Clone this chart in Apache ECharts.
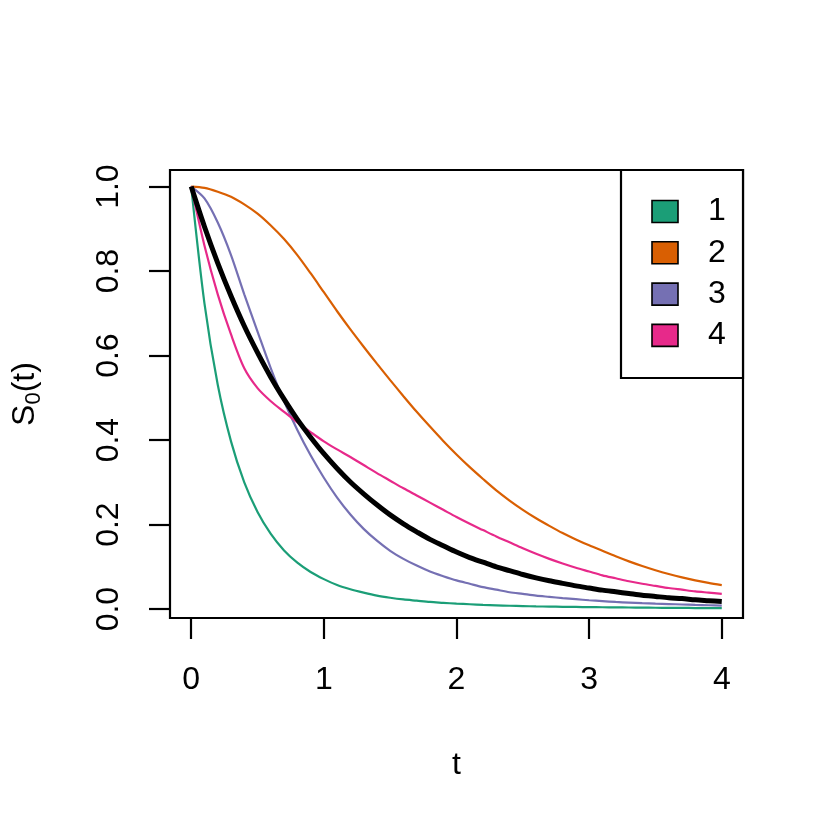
<!DOCTYPE html>
<html>
<head>
<meta charset="utf-8">
<script src="https://cdn.jsdelivr.net/npm/echarts@6/dist/echarts.min.js"></script>
<style>
html,body{margin:0;padding:0;background:#fff;}
#chart{width:830px;height:830px;}
</style>
</head>
<body>
<div id="chart"></div>
<script>
// ---- data (t from 0 to 4 in steps of 0.1) ----
const tValues = [0,0.1,0.2,0.3,0.4,0.5,0.6,0.7,0.8,0.9,1.0,1.1,1.2,1.3,1.4,1.5,1.6,1.7,1.8,1.9,2.0,2.1,2.2,2.3,2.4,2.5,2.6,2.7,2.8,2.9,3.0,3.1,3.2,3.3,3.4,3.5,3.6,3.7,3.8,3.9,4.0];
const s1 = [1,0.723,0.531,0.397,0.300,0.230,0.178,0.139,0.110,0.088,0.071,0.057,0.047,0.039,0.032,0.027,0.023,0.020,0.017,0.015,0.013,0.0115,0.010,0.009,0.008,0.0072,0.0065,0.006,0.0055,0.0051,0.0047,0.0044,0.0041,0.0039,0.0036,0.0033,0.0031,0.0029,0.0026,0.0024,0.0022];
const s2 = [1,0.997,0.988,0.976,0.958,0.936,0.908,0.876,0.838,0.795,0.750,0.705,0.662,0.621,0.581,0.542,0.504,0.467,0.432,0.398,0.366,0.336,0.308,0.281,0.257,0.235,0.215,0.197,0.180,0.165,0.151,0.138,0.125,0.113,0.102,0.092,0.083,0.075,0.068,0.062,0.057];
const s3 = [1,0.972,0.915,0.838,0.745,0.657,0.570,0.492,0.424,0.364,0.311,0.264,0.224,0.190,0.162,0.138,0.119,0.103,0.089,0.078,0.068,0.060,0.052,0.046,0.040,0.036,0.032,0.029,0.026,0.0235,0.021,0.019,0.017,0.0155,0.0142,0.013,0.012,0.011,0.010,0.0092,0.0085];
const s4 = [1,0.86,0.745,0.650,0.570,0.523,0.492,0.467,0.442,0.419,0.397,0.378,0.360,0.341,0.322,0.304,0.286,0.269,0.252,0.235,0.218,0.202,0.187,0.172,0.158,0.144,0.131,0.119,0.108,0.098,0.089,0.080,0.073,0.066,0.060,0.055,0.050,0.046,0.042,0.039,0.036];
const sBase = [1,0.905,0.819,0.741,0.670,0.607,0.549,0.497,0.449,0.407,0.368,0.333,0.301,0.273,0.247,0.223,0.202,0.183,0.165,0.150,0.135,0.122,0.111,0.100,0.091,0.082,0.074,0.067,0.061,0.055,0.050,0.045,0.041,0.037,0.033,0.030,0.027,0.025,0.022,0.020,0.018];
const groupNames = ['1','2','3','4'];
const groupColors = ['#1B9E77','#D95F02','#7570B3','#E7298A'];
const xTicks = [0,1,2,3,4];
const yTicks = [0,0.2,0.4,0.6,0.8,1.0];
const yTickLabels = ['0.0','0.2','0.4','0.6','0.8','1.0'];

// ---- chart ----
const FONT = "'Liberation Sans', Arial, Helvetica, sans-serif";
const groupSeries = [s1,s2,s3,s4];
const pair = arr => tValues.map((t,i)=>[t,arr[i]]);

const series = groupSeries.map((arr,i)=>({
  name: groupNames[i], type:'line', data: pair(arr), showSymbol:false, smooth:0.3,
  lineStyle:{color:groupColors[i], width:2.2}, itemStyle:{color:groupColors[i]}, z:2, silent:true
}));
series.push({
  name:'S0', type:'line', data: pair(sBase), showSymbol:false, smooth:0.3,
  lineStyle:{color:'#000', width:5}, z:3, silent:true
});

// legend drawn as graphics (box + keys)
const legBox = {x:621, y:170, w:122, h:208};
const graphics = [{
  type:'rect', shape:{x:legBox.x, y:legBox.y, width:legBox.w, height:legBox.h},
  style:{fill:'#fff', stroke:'#000', lineWidth:2.2}, z:10
}];
groupNames.forEach((n,i)=>{
  const cy = 211.5 + i*41.3;
  graphics.push({type:'rect', shape:{x:652, y:cy-11, width:26, height:22},
    style:{fill:groupColors[i], stroke:'#000', lineWidth:1.6}, z:11});
  graphics.push({type:'text', x:717, y:cy, style:{text:n, font:'32px '+FONT, fill:'#000',
    textAlign:'center', textVerticalAlign:'middle'}, z:11});
});

const chart = echarts.init(document.getElementById('chart'), null, {renderer:'canvas'});
chart.setOption({
  animation:false,
  backgroundColor:'#fff',
  grid:{left:170, top:170, width:573, height:448, show:true, borderColor:'#000', borderWidth:2.2, backgroundColor:'transparent'},
  xAxis:{
    type:'value', min:-0.16, max:4.16,
    axisLine:{show:false, onZero:false},
    splitLine:{show:false},
    axisTick:{show:true, inside:false, length:21, lineStyle:{color:'#000', width:2.2}, customValues:xTicks},
    axisLabel:{customValues:xTicks, fontSize:32, fontFamily:FONT, color:'#000', margin:46,
      formatter: v => String(v)},
    name:'t', nameLocation:'middle', nameGap:131,
    nameTextStyle:{fontSize:32, fontFamily:FONT, color:'#000'}
  },
  yAxis:{
    type:'value', min:-0.021, max:1.0393,
    axisLine:{show:false, onZero:false},
    splitLine:{show:false},
    axisTick:{show:true, inside:false, length:21, lineStyle:{color:'#000', width:2.2}, customValues:yTicks},
    axisLabel:{customValues:yTicks, rotate:90, fontSize:32, fontFamily:FONT, color:'#000', margin:45,
      formatter: v => { const i = yTicks.findIndex(y=>Math.abs(y-v)<1e-9); return i>=0 ? yTickLabels[i] : ''; }},
    name:'{a|S}{b|0}{a|(t)}', nameLocation:'middle', nameGap:125, nameRotate:90,
    nameTextStyle:{color:'#000', rich:{
      a:{fontSize:32, fontFamily:FONT, color:'#000', lineHeight:40},
      b:{fontSize:22, fontFamily:FONT, color:'#000', lineHeight:22, verticalAlign:'bottom'}
    }}
  },
  series: series,
  graphic: graphics
});
</script>
</body>
</html>
